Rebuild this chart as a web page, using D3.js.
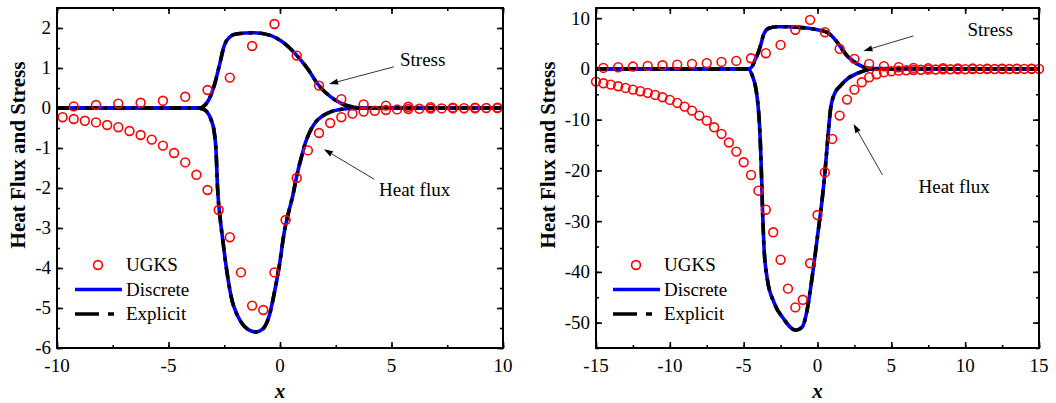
<!DOCTYPE html>
<html><head><meta charset="utf-8">
<script src="https://cdn.jsdelivr.net/npm/d3@7"></script>
<style>body{margin:0;background:#fff}svg{display:block}svg text{font-family:"Liberation Serif","DejaVu Serif","Times New Roman",Times,serif !important}</style>
</head><body><svg id="c" width="1056" height="403" font-family="Liberation Serif, DejaVu Serif, serif"></svg>
<script>
// ---------- Left panel data ----------
const L_stressUgksX = [-9.25,-8.25,-7.25,-6.25,-5.25,-4.25,-3.25,-2.25,-1.25,-0.25,0.75,1.75,2.75,3.75,4.75,5.75,6.75,7.75,8.75,9.75];
const L_stressUgksY = [0.04,0.075,0.11,0.13,0.18,0.28,0.45,0.76,1.55,2.1,1.31,0.56,0.22,0.09,0.06,0.03,0.02,0.01,0.01,0.01];
const L_heatUgksX = [-9.75,-9.25,-8.75,-8.25,-7.75,-7.25,-6.75,-6.25,-5.75,-5.25,-4.75,-4.25,-3.75,-3.25,-2.75,-2.25,-1.75,-1.25,-0.75,-0.25,0.25,0.75,1.25,1.75,2.25,2.75,3.25,3.75,4.25,4.75,5.25,5.75,6.25,6.75,7.25,7.75,8.25,8.75,9.25,9.75];
const L_heatUgksY = [-0.23,-0.275,-0.32,-0.36,-0.425,-0.48,-0.575,-0.675,-0.79,-0.94,-1.125,-1.36,-1.67,-2.05,-2.55,-3.23,-4.11,-4.94,-5.05,-4.11,-2.8,-1.75,-1.06,-0.625,-0.375,-0.23,-0.14,-0.09,-0.07,-0.05,-0.035,-0.025,-0.02,-0.015,-0.01,-0.01,-0.005,-0.005,0,0];
const L_stressCurveX = [-10,-3.6,-3.45,-3.17,-2.95,-2.72,-2.5,-2.27,-1.97,-1.15,-0.4,0.04,0.4,0.76,1.24,1.69,2.29,2.88,3.33,3.8,10];
const L_stressCurveY = [0,0,0.03,0.23,0.56,1.06,1.56,1.77,1.85,1.88,1.81,1.68,1.52,1.31,0.98,0.6,0.27,0.08,0.02,0,0];
const L_heatCurveX = [-10,-3.7,-3.5,-3.3,-3.1,-2.95,-2.87,-2.8,-2.68,-2.57,-2.42,-2.2,-1.82,-1.45,-1.08,-0.78,-0.48,-0.25,-0.03,0.19,0.42,0.57,0.75,0.95,1.15,1.35,1.6,1.9,2.3,2.8,3.3,4,10];
const L_heatCurveY = [0,0,-0.02,-0.08,-0.28,-0.6,-1.05,-2.0,-2.78,-3.28,-3.94,-4.69,-5.28,-5.53,-5.6,-5.53,-5.19,-4.61,-3.94,-3.11,-2.53,-2.2,-1.7,-1.25,-0.85,-0.58,-0.35,-0.2,-0.09,-0.03,-0.01,0,0];
const L_xTicks = [-10,-5,0,5,10];
const L_yTicks = [-6,-5,-4,-3,-2,-1,0,1,2];

// ---------- Right panel data ----------
const R_stressUgksX = [-14.5,-13.5,-12.5,-11.5,-10.5,-9.5,-8.5,-7.5,-6.5,-5.5,-4.5,-3.5,-2.5,-1.5,-0.5,0.5,1.5,2.5,3.5,4.5,5.5,6.5,7.5,8.5,9.5,10.5,11.5,12.5,13.5,14.5];
const R_stressUgksY = [0.2,0.33,0.46,0.59,0.72,0.85,0.99,1.12,1.38,1.58,2.1,3.09,4.73,7.69,9.66,7.23,3.94,1.97,0.99,0.53,0.33,0.2,0.15,0.12,0.1,0.08,0.06,0.05,0.04,0.03];
const R_heatUgksX = [-15,-14.5,-14,-13.5,-13,-12.5,-12,-11.5,-11,-10.5,-10,-9.5,-9,-8.5,-8,-7.5,-7,-6.5,-6,-5.5,-5,-4.5,-4,-3.5,-3,-2.5,-2,-1.5,-1,-0.5,0,0.5,1,1.5,2,2.5,3,3.5,4,4.5,5,5.5,6,6.5,7,7.5,8,8.5,9,9.5,10,10.5,11,11.5,12,12.5,13,13.5,14,14.5,15];
const R_heatUgksY = [-2.5,-2.83,-3.09,-3.42,-3.75,-4.08,-4.4,-4.73,-5.13,-5.59,-6.11,-6.71,-7.43,-8.22,-9.2,-10.2,-11.5,-12.8,-14.5,-16.3,-18.4,-20.9,-24.0,-27.75,-32.2,-37.6,-43.3,-47.0,-45.5,-38.3,-28.8,-20.4,-13.8,-9.2,-6.05,-4.08,-2.63,-1.64,-1.05,-0.65,-0.46,-0.35,-0.28,-0.22,-0.18,-0.15,-0.12,-0.1,-0.08,-0.07,-0.06,-0.05,-0.04,-0.035,-0.03,-0.025,-0.02,-0.015,-0.01,-0.01,-0.01];
const R_stressCurveX = [-15,-4.8,-4.65,-4.4,-4.2,-4.0,-3.86,-3.63,-3.3,-2.73,-2.0,-1.37,-0.6,0,0.66,1.0,1.33,1.66,2.0,2.35,2.69,3.1,3.6,15];
const R_stressCurveY = [0,0,0.02,0.6,1.97,3.3,4.6,6.9,8.0,8.3,8.3,8.2,8.0,7.7,7.2,6.4,5.26,3.9,2.6,1.7,0.99,0.4,0.05,0];
const R_heatCurveX = [-15,-4.8,-4.65,-4.42,-4.2,-4.05,-3.95,-3.85,-3.78,-3.72,-3.63,-3.4,-2.95,-2.28,-1.49,-1.04,-0.7,-0.36,0,0.32,0.5,0.66,0.77,0.88,1.1,1.56,2.1,2.69,3.2,3.8,15];
const R_heatCurveY = [0,0,-0.05,-1.3,-3.5,-6.5,-10,-16,-22,-28,-34.8,-41.4,-46,-49.3,-51.5,-50.9,-47.5,-41,-33,-25.6,-20.5,-15,-11.2,-8,-5.26,-3.3,-1.8,-0.9,-0.3,-0.03,0];
const R_xTicks = [-15,-10,-5,0,5,10,15];
const R_yTicks = [-50,-40,-30,-20,-10,0,10];

const legendLabels = ["UGKS","Discrete","Explicit"];
const annoLabels = ["Stress","Heat flux"];

const svg = d3.select("#c");
const FS = 19;
const FF = "Liberation Serif, DejaVu Serif, Times New Roman, serif";

function panel(cfg){
  const g = svg.append("g").attr("font-family",FF);
  const x = d3.scaleLinear().domain(cfg.xDom).range([cfg.left, cfg.right]);
  const y = d3.scaleLinear().domain(cfg.yDom).range([cfg.bottom, cfg.top]);
  const clipId = "clip"+cfg.id;
  svg.append("clipPath").attr("id",clipId).append("rect")
    .attr("x",cfg.left).attr("y",cfg.top).attr("width",cfg.right-cfg.left).attr("height",cfg.bottom-cfg.top);

  const minorX = d3.range(cfg.xDom[0], cfg.xDom[1]+1e-9, cfg.xMinor);
  const minorY = d3.range(cfg.yMinorStart, cfg.yDom[1]+1e-9, cfg.yMinor);

  const mk = (axis, ticks, size) => axis.tickValues(ticks).tickSize(size).tickPadding(0).tickFormat("");
  const ax = g.append("g");
  ax.append("g").attr("transform",`translate(0,${cfg.bottom})`).call(mk(d3.axisTop(x), minorX, 3));
  ax.append("g").attr("transform",`translate(0,${cfg.bottom})`).call(mk(d3.axisTop(x), cfg.xTicks, 6));
  ax.append("g").attr("transform",`translate(0,${cfg.top})`).call(mk(d3.axisBottom(x), minorX, 3));
  ax.append("g").attr("transform",`translate(0,${cfg.top})`).call(mk(d3.axisBottom(x), cfg.xTicks, 6));
  ax.append("g").attr("transform",`translate(${cfg.left},0)`).call(mk(d3.axisRight(y), minorY, 3));
  ax.append("g").attr("transform",`translate(${cfg.left},0)`).call(mk(d3.axisRight(y), cfg.yTicks, 6));
  ax.append("g").attr("transform",`translate(${cfg.right},0)`).call(mk(d3.axisLeft(y), minorY, 3));
  ax.append("g").attr("transform",`translate(${cfg.right},0)`).call(mk(d3.axisLeft(y), cfg.yTicks, 6));
  ax.selectAll(".domain").remove();
  ax.selectAll(".tick line").attr("stroke","#000").attr("stroke-width",1.6);

  // tick labels
  g.append("g").selectAll("text").data(cfg.xTicks).join("text")
    .attr("x",d=>x(d)).attr("y",cfg.bottom+24).attr("text-anchor","middle")
    .attr("font-size",FS).text(d=>String(d));
  g.append("g").selectAll("text").data(cfg.yTicks).join("text")
    .attr("x",cfg.left-6).attr("y",d=>y(d)).attr("dy","0.34em").attr("text-anchor","end")
    .attr("font-size",FS).text(d=>String(d));

  // data
  const plot = g.append("g").attr("clip-path",`url(#${clipId})`);
  const line = d3.line().x(d=>x(d[0])).y(d=>y(d[1])).curve(d3.curveMonotoneX);
  const curves = [d3.zip(cfg.sCX, cfg.sCY), d3.zip(cfg.hCX, cfg.hCY)];
  curves.forEach(c=>{
    plot.append("path").attr("d",line(c)).attr("fill","none").attr("stroke","#0000ff").attr("stroke-width",3.6);
  });
  curves.forEach(c=>{
    plot.append("path").attr("d",line(c)).attr("fill","none").attr("stroke","#000").attr("stroke-width",3.6)
      .attr("stroke-dasharray","12,6,4,6");
  });
  const pts = d3.zip(cfg.hUX, cfg.hUY).concat(d3.zip(cfg.sUX, cfg.sUY));
  g.append("g").selectAll("circle").data(pts).join("circle")
    .attr("cx",d=>x(d[0])).attr("cy",d=>y(d[1])).attr("r",4.4)
    .attr("fill","none").attr("stroke","#ff0000").attr("stroke-width",1.6);

  // frame
  g.append("rect").attr("x",cfg.left).attr("y",cfg.top).attr("width",cfg.right-cfg.left).attr("height",cfg.bottom-cfg.top)
    .attr("fill","none").attr("stroke","#000").attr("stroke-width",2);

  // axis titles
  g.append("text").attr("transform",`translate(${cfg.left-cfg.titleDx},155) rotate(-90)`).attr("text-anchor","middle")
    .attr("dy","0.35em").attr("font-size",21).attr("font-weight","bold").text("Heat Flux and Stress");
  g.append("text").attr("x",(cfg.left+cfg.right)/2).attr("y",398).attr("text-anchor","middle")
    .attr("font-size",21).attr("font-weight","bold").attr("font-style","italic").text("x");

  // legend
  const lx = cfg.left + cfg.legDx;
  const ly = [265,289.5,314];
  g.append("circle").attr("cx",lx+23).attr("cy",ly[0]).attr("r",4.4).attr("fill","none").attr("stroke","#ff0000").attr("stroke-width",1.6);
  g.append("line").attr("x1",lx).attr("x2",lx+47).attr("y1",ly[1]).attr("y2",ly[1]).attr("stroke","#0000ff").attr("stroke-width",3.6);
  g.append("line").attr("x1",lx).attr("x2",lx+40).attr("y1",ly[2]).attr("y2",ly[2]).attr("stroke","#000").attr("stroke-width",3.6).attr("stroke-dasharray","24,9,6,20");
  legendLabels.forEach((t,i)=>{
    g.append("text").attr("x",lx+51).attr("y",ly[i]).attr("dy","0.34em").attr("font-size",FS).text(t);
  });

  // annotations
  cfg.anno.forEach((a,i)=>{
    g.append("text").attr("x",x(a.tx)).attr("y",y(a.ty)).attr("font-size",FS).text(annoLabels[i]);
    const x1=x(a.ax0), y1=y(a.ay0), x2=x(a.ax1), y2=y(a.ay1);
    const ang = Math.atan2(y2-y1, x2-x1);
    const hl = 9, hw = 3;
    const bx = x2 - hl*Math.cos(ang), by = y2 - hl*Math.sin(ang);
    g.append("line").attr("x1",x1).attr("y1",y1).attr("x2",bx).attr("y2",by).attr("stroke","#000").attr("stroke-width",0.8);
    const px = -Math.sin(ang)*hw, py = Math.cos(ang)*hw;
    g.append("path").attr("d",`M${x2},${y2}L${bx+px},${by+py}L${bx-px},${by-py}Z`).attr("fill","#000");
  });
}

panel({id:"L", left:57, right:503, top:8, bottom:348, xDom:[-10,10], yDom:[-6,2.5],
  xTicks:L_xTicks, yTicks:L_yTicks, xMinor:2.5, yMinor:0.5, yMinorStart:-6, titleDx:39,
  sCX:L_stressCurveX, sCY:L_stressCurveY, hCX:L_heatCurveX, hCY:L_heatCurveY,
  sUX:L_stressUgksX, sUY:L_stressUgksY, hUX:L_heatUgksX, hUY:L_heatUgksY, legDx:18,
  anno:[{tx:5.38,ty:1.05,ax0:5.11,ay0:1.03,ax1:2.2,ay1:0.6},{tx:4.44,ty:-2.2,ax0:4.22,ay0:-1.78,ax1:1.97,ay1:-1.03}]});

panel({id:"R", left:596, right:1039, top:8, bottom:348, xDom:[-15,15], yDom:[-55,12],
  xTicks:R_xTicks, yTicks:R_yTicks, xMinor:2.5, yMinor:5, yMinorStart:-55, titleDx:48,
  sCX:R_stressCurveX, sCY:R_stressCurveY, hCX:R_heatCurveX, hCY:R_heatCurveY,
  sUX:R_stressUgksX, sUY:R_stressUgksY, hUX:R_heatUgksX, hUY:R_heatUgksY, legDx:17,
  anno:[{tx:10.16,ty:6.5,ax0:6.5,ay0:6.5,ax1:3.11,ay1:3.55},{tx:6.84,ty:-24.5,ax0:4.4,ay0:-20.9,ax1:2.44,ay1:-10.85}]});
</script></body></html>
